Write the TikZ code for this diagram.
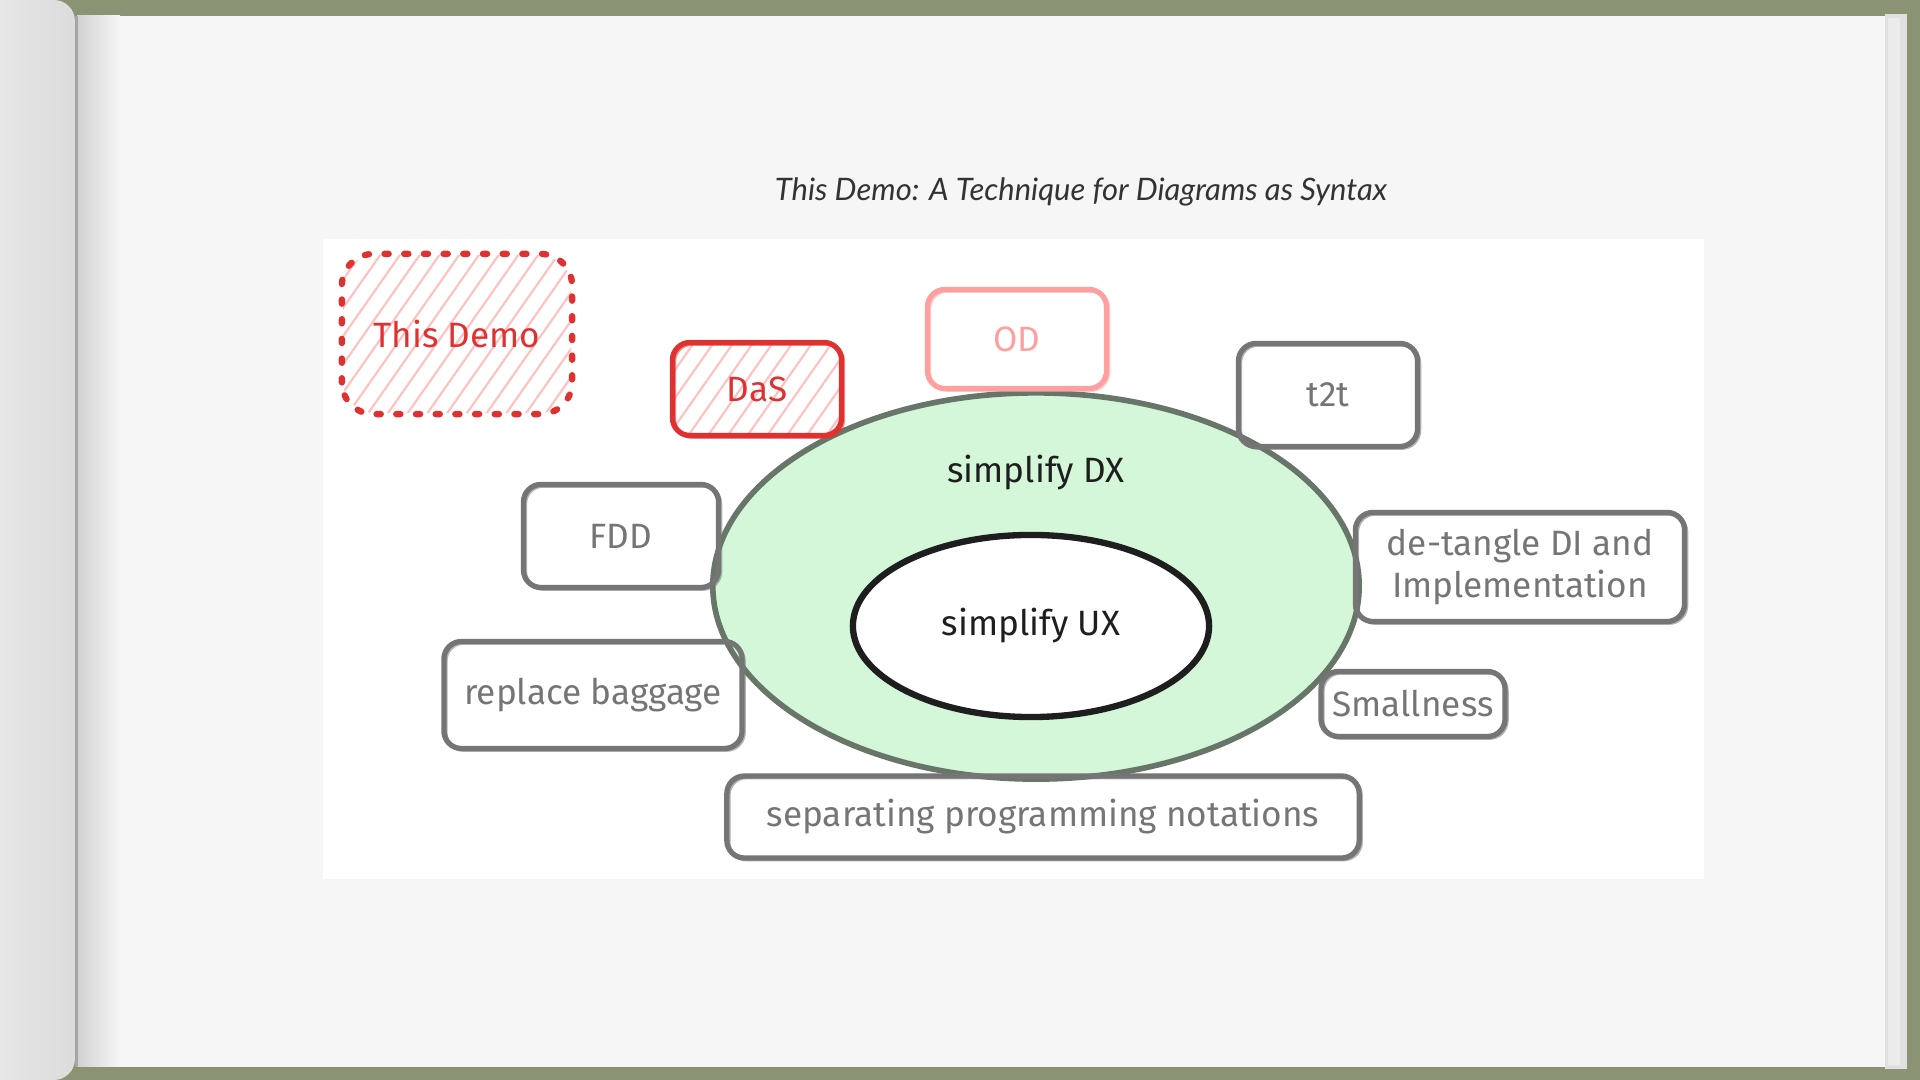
\documentclass[tikz,border=0pt]{standalone}
\usepackage{fontspec}
\setmainfont{Fira Sans}
\newfontfamily\titlefont{Lato}
\usetikzlibrary{shapes.geometric,patterns.meta}
\definecolor{framegreen}{RGB}{138,148,116}
\definecolor{pagewhite}{RGB}{246,246,246}
\definecolor{boxgrey}{RGB}{117,117,117}
\definecolor{sketchred}{RGB}{224,49,49}
\definecolor{sketchpink}{RGB}{255,160,160}
\definecolor{hatchpink}{RGB}{255,192,192}
\definecolor{dxgreen}{RGB}{211,247,216}
\definecolor{dxline}{RGB}{104,118,106}
\definecolor{inkblack}{RGB}{30,30,30}

\tikzset{
  sketchbox/.style={draw=#1, text=#1, line width=1.5pt, rounded corners=5pt,
    font=\fontsize{10pt}{12pt}\selectfont, align=center, inner sep=0pt,
    postaction={draw=#1, opacity=0.55, line width=0.9pt,
      transform canvas={xshift=0.6pt, yshift=-0.5pt}}},
  sketchbox/.default=boxgrey,
  hatched/.style={pattern={Lines[angle=55,distance=4.6pt,line width=0.6pt]},
    pattern color=hatchpink},
  dottedline/.style={draw=sketchred, line width=1.8pt, line cap=round,
    dash pattern=on 1.2pt off 4.4pt, rounded corners=9pt},
  ring/.style={ellipse, inner sep=0pt, line width=1.6pt},
  ringlabel/.style={text=inkblack, font=\fontsize{10pt}{12pt}\selectfont},
}

\begin{document}
\begin{tikzpicture}[x=0.01cm, y=-0.01cm]
  \useasboundingbox (0,0) rectangle (1920,1080);
  % book and page
  \fill[framegreen] (0,0) rectangle (1920,1080);
  \fill[pagewhite] (77,16) rectangle (1885,1067);
  \shade[left color=black!18, right color=pagewhite] (77,16) rectangle (120,1067);
  \fill[black!12] (1885,14) rectangle (1907,1069);
  \fill[white!92!black] (1888,18) rectangle (1900,1065);
  \shade[left color=white!95!black, right color=black!14, middle color=white!91!black,
    rounded corners=6pt] (-100,0) rectangle (75,1080);
  \fill[black!35] (75,16) rectangle (78,1067);

  % title and white sheet
  \node[text=black!80, font=\titlefont\itshape\fontsize{8.8pt}{10pt}\selectfont] (title) at (1081,192)
    {This Demo: A Technique for Diagrams as Syntax};
  \fill[white] (323,239) rectangle (1704,879);

  % rings
  \node[ring, fill=dxgreen, draw=dxline, minimum width=6.46cm, minimum height=3.86cm] (dx) at (1036,586) {};
  \node[ring, fill=white, draw=inkblack, line width=1.8pt, minimum width=3.56cm, minimum height=1.82cm] (ux) at (1031,626) {};
  \node[ringlabel] (dxtext) at (1036,473) {simplify DX};
  \node[ringlabel] (uxtext) at (1031,626) {simplify UX};

  % boxes around
  \node[hatched, rounded corners=9pt, text=sketchred, font=\fontsize{10pt}{12pt}\selectfont,
    minimum width=2.28cm, minimum height=1.58cm] (demo) at (457,334) {This Demo};
  \draw[dottedline] (demo.south west) rectangle (demo.north east);
  \node[sketchbox=sketchred, hatched, minimum width=1.69cm, minimum height=0.93cm] (das) at (757,389) {DaS};
  \node[sketchbox=sketchpink, minimum width=1.79cm, minimum height=0.99cm] (od) at (1017,339) {OD};
  \node[sketchbox, minimum width=1.79cm, minimum height=1.03cm] (t2t) at (1328,395) {t2t};
  \node[sketchbox, minimum width=1.95cm, minimum height=1.03cm] (fdd) at (621,536) {FDD};
  \node[sketchbox, minimum width=3.29cm, minimum height=1.09cm] (detangle) at (1520,567) {de-tangle DI and\\Implementation};
  \node[sketchbox, minimum width=2.98cm, minimum height=1.07cm] (baggage) at (593,695) {replace baggage};
  \node[sketchbox, minimum width=1.84cm, minimum height=0.65cm] (small) at (1413,704) {Smallness};
  \node[sketchbox, minimum width=6.32cm, minimum height=0.82cm] (notations) at (1043,817) {separating programming notations};
\end{tikzpicture}
\end{document}
